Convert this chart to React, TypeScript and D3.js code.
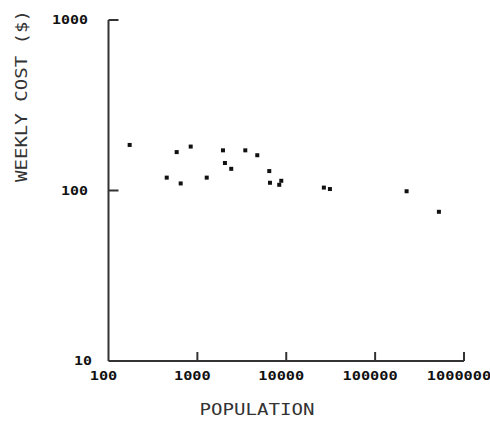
import React from "react";
import * as d3 from "d3";

const population = [173, 585, 841, 452, 649, 1274, 1941, 2042, 2404, 3460, 4720, 6440, 6560, 8790, 8340, 26500, 31000, 226000, 522000];
const weeklyCost = [185, 168, 181, 119, 110, 119, 172, 145, 134, 172, 161, 130, 111, 114, 108, 104, 102, 99, 75];
const xTicks = [100, 1000, 10000, 100000, 1000000];
const yTicks = [10, 100, 1000];

export default function App() {
  const W = 490, H = 424;
  const x = d3.scaleLog().domain([100, 1000000]).range([108.5, 464]);
  const y = d3.scaleLog().domain([10, 1000]).range([361, 20]);
  const axisColor = "#333";
  const tickFont = "'DejaVu Sans Mono', monospace";
  return (
    <svg width={W} height={H} style={{ position: "absolute", left: 0, top: 0, background: "#fff" }}>
      {/* axes */}
      <line x1={x(100)} x2={x(100)} y1={y(1000)} y2={y(10)} stroke={axisColor} strokeWidth={2} />
      <line x1={x(100)} x2={x(1000000)} y1={y(10)} y2={y(10)} stroke={axisColor} strokeWidth={2} />
      {yTicks.filter(t => t > 10).map(t => (
        <line key={"yt" + t} x1={x(100)} x2={x(100) + 10} y1={y(t)} y2={y(t)} stroke={axisColor} strokeWidth={2} />
      ))}
      {xTicks.filter(t => t > 100).map(t => (
        <line key={"xt" + t} x1={x(t)} x2={x(t)} y1={y(10)} y2={y(10) - 9} stroke={axisColor} strokeWidth={2} />
      ))}
      {yTicks.map(t => {
        const s = String(t);
        return (
          <text key={"yl" + t} x={t === 10 ? 92 : 88} y={y(t)} dy="0.35em" textAnchor="end"
            fontFamily={tickFont} fontWeight="bold" fontSize={12} fill="#111"
            textLength={s.length * 9} lengthAdjust="spacingAndGlyphs">{s}</text>
        );
      })}
      {xTicks.map(t => {
        const s = String(t);
        return (
          <text key={"xl" + t} x={x(t) - 5} y={376} dy="0.35em" textAnchor="middle"
            fontFamily={tickFont} fontWeight="bold" fontSize={12} fill="#111"
            textLength={s.length * 9.2} lengthAdjust="spacingAndGlyphs">{s}</text>
        );
      })}
      {/* titles */}
      <text x={257} y={410} dy="0.35em" textAnchor="middle" fontFamily={tickFont} fontSize={15} fill="#333"
        textLength={115} lengthAdjust="spacingAndGlyphs">POPULATION</text>
      <text transform={`translate(22,96) rotate(-90)`} textAnchor="middle" dy="0.35em" fontFamily={tickFont} fontSize={15} fill="#333"
        textLength={172} lengthAdjust="spacingAndGlyphs">WEEKLY COST ($)</text>
      {/* points */}
      {population.map((p, i) => (
        <rect key={i} x={x(p) - 2} y={y(weeklyCost[i]) - 2} width={4} height={4} fill="#111" />
      ))}
    </svg>
  );
}
